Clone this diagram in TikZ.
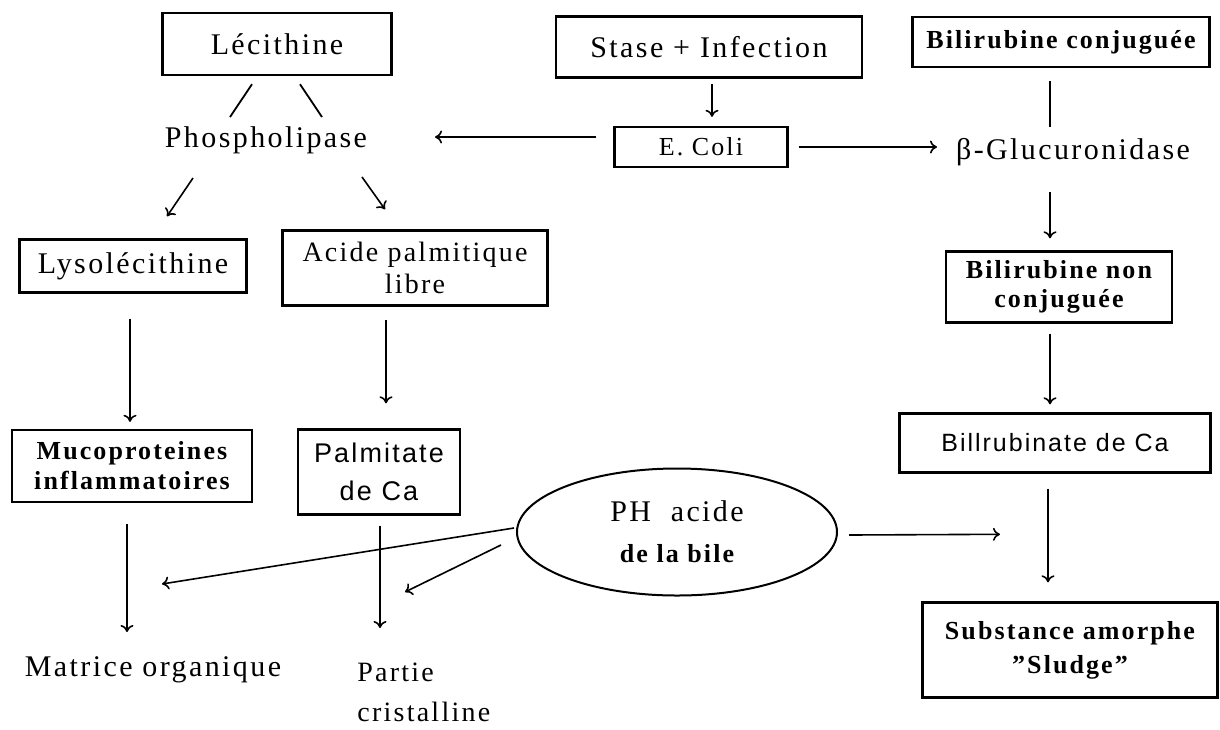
\documentclass[tikz,border=0pt]{standalone}
\usepackage{fontspec}
\setmainfont{Liberation Serif}[LetterSpace=8]
\setsansfont{Liberation Sans}[LetterSpace=8]
\usetikzlibrary{arrows.meta,shapes.geometric}
\tikzset{
  box/.style={draw, line width=1.2pt, inner sep=0pt, align=center},
  lbl/.style={inner sep=0pt, align=center},
  arr/.style={line width=0.8pt, -{To[length=3.5pt,width=6.5pt]}},
  seg/.style={line width=0.9pt},
}
\begin{document}
\begin{tikzpicture}[x=0.5pt,y=-0.5pt]
\useasboundingbox (0,0) rectangle (1220,729);
\node[box, minimum width=114.5pt, minimum height=31pt, font=\fontsize{15}{17}\selectfont] (lec) at (277,44) {Lécithine};
\node[lbl, font=\fontsize{15}{17}\selectfont] (phos) at (266,140) {Phospholipase};
\node[box, minimum width=113.5pt, minimum height=26.5pt, font=\fontsize{15}{17}\selectfont] (lyso) at (133,266) {Lysolécithine};
\node[box, minimum width=132.5pt, minimum height=37.5pt, font=\fontsize{14}{16}\selectfont] (acide) at (415,268) {Acide palmitique\\libre};
\node[box, minimum width=120pt, minimum height=36pt, font=\bfseries\fontsize{13}{15}\selectfont] (muco) at (132,466) {Mucoproteines\\inflammatoires};
\node[box, minimum width=81pt, minimum height=42.5pt, font=\sffamily\fontsize{13.5}{19}\selectfont] (palm) at (379,472) {Palmitate\\de Ca};
\node[lbl, font=\fontsize{15}{17}\selectfont] (matrice) at (153,670) {Matrice organique};
\node[lbl, align=left, anchor=west, font=\fontsize{14}{20}\selectfont] (partie) at (357,692) {Partie\\cristalline};
\node[box, minimum width=153pt, minimum height=30.5pt, font=\fontsize{15}{17}\selectfont] (stase) at (709,47) {Stase + Infection};
\node[box, minimum width=86.5pt, minimum height=20pt, font=\fontsize{13}{15}\selectfont] (ecoli) at (701,147) {E. Coli};
\node[box, minimum width=148.5pt, minimum height=25pt, font=\bfseries\fontsize{13}{15}\selectfont] (bcon) at (1061,42) {Bilirubine conjuguée};
\node[lbl, font=\fontsize{15}{17}\selectfont] (gluc) at (1073,152) {β-Glucuronidase};
\node[box, minimum width=113pt, minimum height=35.5pt, font=\bfseries\fontsize{13}{14.5}\selectfont] (bnon) at (1059,287) {Bilirubine non\\conjuguée};
\node[box, minimum width=155.5pt, minimum height=29.5pt, font=\sffamily\fontsize{12.5}{15}\selectfont] (bca) at (1055,443) {Billrubinate de Ca};
\node[box, minimum width=147.5pt, minimum height=47.5pt, font=\bfseries\fontsize{13}{17}\selectfont] (sludge) at (1070,650) {Substance amorphe\\"Sludge"};
\node[ellipse, draw, line width=1pt, minimum width=160pt, minimum height=63.5pt, inner sep=0pt, align=center, font=\fontsize{15}{20.5}\selectfont] (ph) at (677,532) {PH~~acide\\\bfseries\fontsize{13}{20.5}\selectfont de la bile};
\draw[seg] ([shift={(-25,8)}]lec.south) -- ([shift={(-36,-23)}]phos.center);
\draw[seg] ([shift={(23,8)}]lec.south) -- ([shift={(56,-23)}]phos.center);
\draw[arr] ([shift={(-73,38)}]phos.center) -- ([shift={(34,-22)}]lyso.north);
\draw[arr] ([shift={(96,37)}]phos.center) -- ([shift={(-30,-20)}]acide.north);
\draw[arr] ([shift={(3,5)}]stase.south) -- ([shift={(11,-9)}]ecoli.north);
\draw[arr] ([shift={(-17,-10)}]ecoli.west) -- ([shift={(169,-3)}]phos.center);
\draw[arr] ([shift={(10,0)}]ecoli.east) -- ([shift={(-136,-5)}]gluc.center);
\draw[seg] ([shift={(-11,13)}]bcon.south) -- ([shift={(-23,-25)}]gluc.center);
\draw[arr] ([shift={(-23,40)}]gluc.center) -- ([shift={(-9,-12)}]bnon.north);
\draw[arr] ([shift={(-9,10)}]bnon.south) -- ([shift={(-5,-8)}]bca.north);
\draw[arr] ([shift={(-7,15)}]bca.south) -- ([shift={(-22,-19)}]sludge.north);
\draw[arr] ([shift={(11,3)}]ph.east) -- ([shift={(-70,-67)}]sludge.north);
\draw[arr] ([shift={(-3,25)}]lyso.south) -- ([shift={(-2,-7)}]muco.north);
\draw[arr] ([shift={(-29,13)}]acide.south) -- ([shift={(7,-25)}]palm.north);
\draw[arr] ([shift={(-5,21)}]muco.south) -- ([shift={(-26,-38)}]matrice.center);
\draw[arr] ([shift={(1,10)}]palm.south) -- ([shift={(23,-64)}]partie.west);
\draw[arr] ([shift={(-2,-4)}]ph.west) -- ([shift={(9,-86)}]matrice.center);
\draw[arr] ([shift={(-15,13)}]ph.west) -- ([shift={(48,-100)}]partie.west);
\end{tikzpicture}
\end{document}
